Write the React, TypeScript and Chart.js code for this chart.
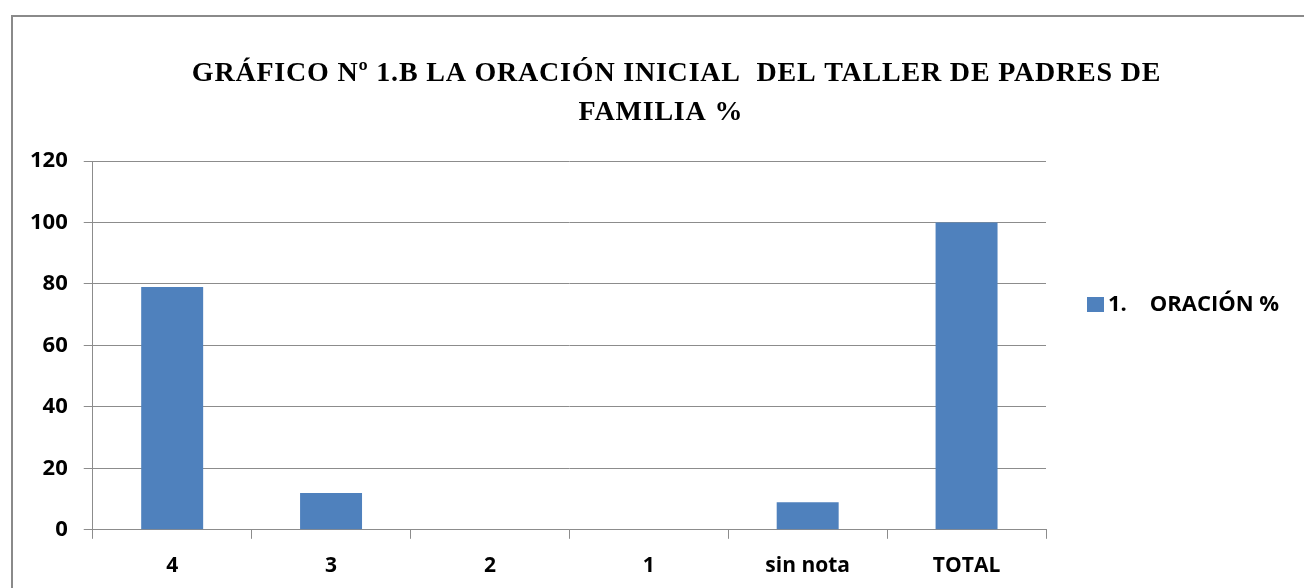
import React, { useEffect, useRef } from "react";
import { Chart, registerables } from "chart.js";

Chart.register(...registerables);

const categories = ["4", "3", "2", "1", "sin nota", "TOTAL"];
const oracionValues = [79, 12, 0, 0, 9, 100];
const seriesLabel = "1.    ORACIÓN %";
const titleLines = ["GRÁFICO Nº 1.B LA ORACIÓN INICIAL  DEL TALLER DE PADRES DE", "FAMILIA %    "];
const yTicks = [0, 20, 40, 60, 80, 100, 120];

const BAR_COLOR = "#4F81BD";
const GRID_COLOR = "#8C8C8C";
const LABEL_FONT = "'Open Sans', 'Liberation Sans', sans-serif";
const TITLE_FONT = "'Liberation Serif', 'Times New Roman', serif";
const CANVAS_W = 1326;
const CANVAS_H = 577;
const PLOT_RIGHT = 1033;

const titleSpacingPlugin = {
  id: "titleSpacing",
  beforeDraw(chart: any) {
    const tb = chart.titleBlock;
    if (tb && !tb.__spaced) {
      const orig = tb.draw.bind(tb);
      tb.draw = (...args: any[]) => {
        const ctx = chart.ctx as any;
        const prev = ctx.letterSpacing;
        ctx.letterSpacing = "0.8px";
        orig(...args);
        ctx.letterSpacing = prev || "0px";
      };
      tb.__spaced = true;
    }
  },
};

const legendPlugin = {
  id: "sideLegend",
  afterDraw(chart: any) {
    const ctx = chart.ctx;
    const area = chart.chartArea;
    const ds = chart.data.datasets[0];
    const x = area.right + 41;
    const y = 288;
    ctx.save();
    ctx.fillStyle = ds.backgroundColor;
    ctx.fillRect(x, y - 8, 17, 15);
    ctx.fillStyle = "#000";
    ctx.font = `bold 22px ${LABEL_FONT}`;
    ctx.textBaseline = "middle";
    ctx.textAlign = "left";
    ctx.fillText(ds.label, x + 21, y);
    ctx.restore();
  },
};

export default function App() {
  const canvasRef = useRef<HTMLCanvasElement | null>(null);

  useEffect(() => {
    if (!canvasRef.current) return;
    const chart = new Chart(canvasRef.current, {
      type: "bar",
      data: {
        labels: categories,
        datasets: [
          {
            label: seriesLabel,
            data: oracionValues,
            backgroundColor: BAR_COLOR,
            borderWidth: 0,
            categoryPercentage: 0.39,
            barPercentage: 1,
            yAxisID: "y",
          },
        ],
      },
      options: {
        responsive: false,
        animation: false,
        layout: { padding: { left: 1, right: 0, top: 0, bottom: 0 } },
        plugins: {
          legend: { display: false },
          tooltip: { enabled: false },
          title: {
            display: true,
            text: titleLines,
            color: "#000",
            font: { family: TITLE_FONT, size: 28, weight: "bold", lineHeight: 1.393 },
            padding: { top: 37, bottom: 29 },
          },
        },
        scales: {
          x: {
            offset: true,
            grid: {
              offset: true,
              drawOnChartArea: false,
              drawTicks: true,
              tickLength: 9,
              color: GRID_COLOR,
            },
            border: { display: true, color: GRID_COLOR, width: 1 },
            ticks: {
              color: "#000",
              padding: 15,
              font: { family: LABEL_FONT, size: 21, weight: "bold" },
            },
          },
          y: {
            min: 0,
            max: 120,
            afterBuildTicks: (axis: any) => {
              axis.ticks = yTicks.map((v) => ({ value: v }));
            },
            grid: {
              color: GRID_COLOR,
              drawTicks: true,
              tickLength: 9,
            },
            border: { display: true, color: GRID_COLOR, width: 1 },
            ticks: {
              color: "#000",
              padding: 16,
              font: { family: LABEL_FONT, size: 22, weight: "bold" },
            },
          },
          legendSpace: {
            type: "linear",
            position: "right",
            display: true,
            min: 0,
            max: 1,
            grid: { display: false, drawTicks: false },
            border: { display: false },
            ticks: { display: false },
            afterFit: (scale: any) => {
              scale.width = CANVAS_W - PLOT_RIGHT;
            },
          },
        },
      },
      plugins: [titleSpacingPlugin, legendPlugin],
    });
    return () => chart.destroy();
  }, []);

  return (
    <div
      style={{
        position: "absolute",
        left: 11,
        top: 15,
        width: 1293,
        height: 573,
        overflow: "hidden",
        borderTop: "2px solid #8A8A8A",
        borderLeft: "2px solid #8A8A8A",
        background: "#fff",
      }}
    >
      <canvas ref={canvasRef} width={CANVAS_W} height={CANVAS_H} style={{ display: "block" }} />
    </div>
  );
}
